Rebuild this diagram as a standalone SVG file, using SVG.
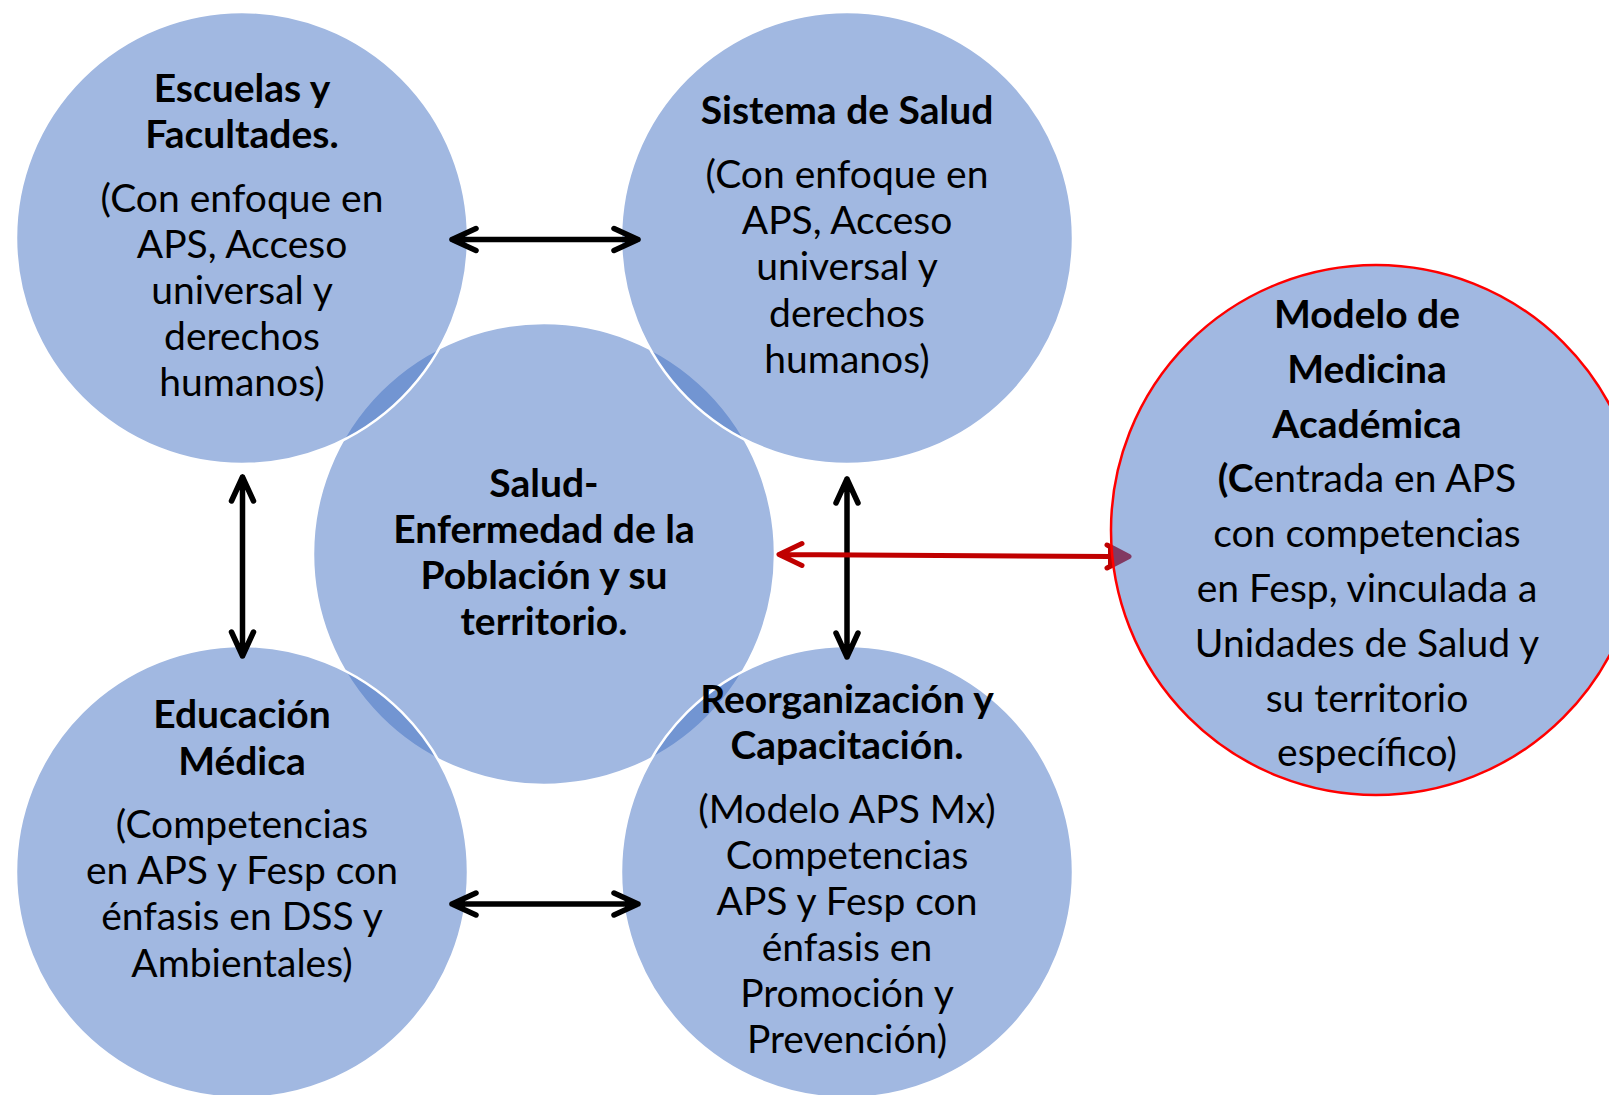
<svg xmlns="http://www.w3.org/2000/svg" width="1609" height="1095" viewBox="0 0 1609 1095">
<style>
.c{fill:#4472C4;fill-opacity:0.5;stroke:#FFFFFF;stroke-width:2.5}
.m{fill:#4472C4;fill-opacity:0.5;stroke:#FF0000;stroke-width:2.5}
text{font-family:Lato,"Liberation Sans",sans-serif;font-size:39px;fill:#000;text-anchor:middle}
.b{font-weight:bold}
.blk{fill:none;stroke:#000;stroke-width:5.5;stroke-linecap:round;stroke-linejoin:round}
.red{fill:none;stroke:#C00000;stroke-width:5;stroke-linecap:round;stroke-linejoin:round}
</style>
<rect width="1609" height="1095" fill="#FFFFFF"/>
<g id="node-salud">
<circle class="c" cx="544" cy="554" r="231" stroke="none"/>
<text class="b" x="544" y="497">Salud-</text>
<text class="b" x="544" y="543">Enfermedad de la</text>
<text class="b" x="544" y="589">Población y su</text>
<text class="b" x="544" y="635">territorio.</text>
</g>
<g id="node-escuelas">
<circle class="c" cx="242" cy="238" r="226"/>
<text class="b" x="242" y="102">Escuelas y</text>
<text class="b" x="242" y="148">Facultades.</text>
<text x="242" y="212">(Con enfoque en</text>
<text x="242" y="258">APS, Acceso</text>
<text x="242" y="304">universal y</text>
<text x="242" y="350">derechos</text>
<text x="242" y="396">humanos)</text>
</g>
<g id="node-sistema">
<circle class="c" cx="847" cy="238" r="226"/>
<text class="b" x="847" y="124">Sistema de Salud</text>
<text x="847" y="188">(Con enfoque en</text>
<text x="847" y="234">APS, Acceso</text>
<text x="847" y="280">universal y</text>
<text x="847" y="327">derechos</text>
<text x="847" y="373">humanos)</text>
</g>
<g id="node-educacion">
<circle class="c" cx="242" cy="872" r="226"/>
<text class="b" x="242" y="728">Educación</text>
<text class="b" x="242" y="775">Médica</text>
<text x="242" y="838">(Competencias</text>
<text x="242" y="884">en APS y Fesp con</text>
<text x="242" y="930">énfasis en DSS y</text>
<text x="242" y="977">Ambientales)</text>
</g>
<g id="node-reorganizacion">
<circle class="c" cx="847" cy="872" r="226"/>
<text class="b" x="847" y="713">Reorganización y</text>
<text class="b" x="847" y="759">Capacitación.</text>
<text x="847" y="823">(Modelo APS Mx)</text>
<text x="847" y="869">Competencias</text>
<text x="847" y="915">APS y Fesp con</text>
<text x="847" y="961">énfasis en</text>
<text x="847" y="1007">Promoción y</text>
<text x="847" y="1053">Prevención)</text>
</g>
<g id="connectors">
<path class="blk" d="M452,239.5 H638 M476,228.5 L452,239.5 L476,250.5 M614,228.5 L638,239.5 L614,250.5"/>
<path class="blk" d="M452,904 H638 M476,893 L452,904 L476,915 M614,893 L638,904 L614,915"/>
<path class="blk" d="M242.5,477 V656 M231.5,501 L242.5,477 L253.5,501 M231.5,632 L242.5,656 L253.5,632"/>
<path class="blk" d="M847,479 V657 M836,503 L847,479 L858,503 M836,633 L847,657 L858,633"/>
<path class="red" d="M779,554.5 L1110,556.5 M802,543.5 L779,554.5 L802,565.5 M1107,545 L1129,556.5 L1107,568"/>
<polygon points="1108,546 1131,556.5 1108,567" fill="#C00000"/>
</g>
<g id="node-modelo">
<circle class="m" cx="1376" cy="530" r="265"/>
<text class="b" x="1367" y="328">Modelo de</text>
<text class="b" x="1367" y="383">Medicina</text>
<text class="b" x="1367" y="438">Académica</text>
<text x="1367" y="492"><tspan class="b">(C</tspan>entrada en APS</text>
<text x="1367" y="547">con competencias</text>
<text x="1367" y="602">en Fesp, vinculada a</text>
<text x="1367" y="657">Unidades de Salud y</text>
<text x="1367" y="712">su territorio</text>
<text x="1367" y="766">específico)</text>
</g>
</svg>
